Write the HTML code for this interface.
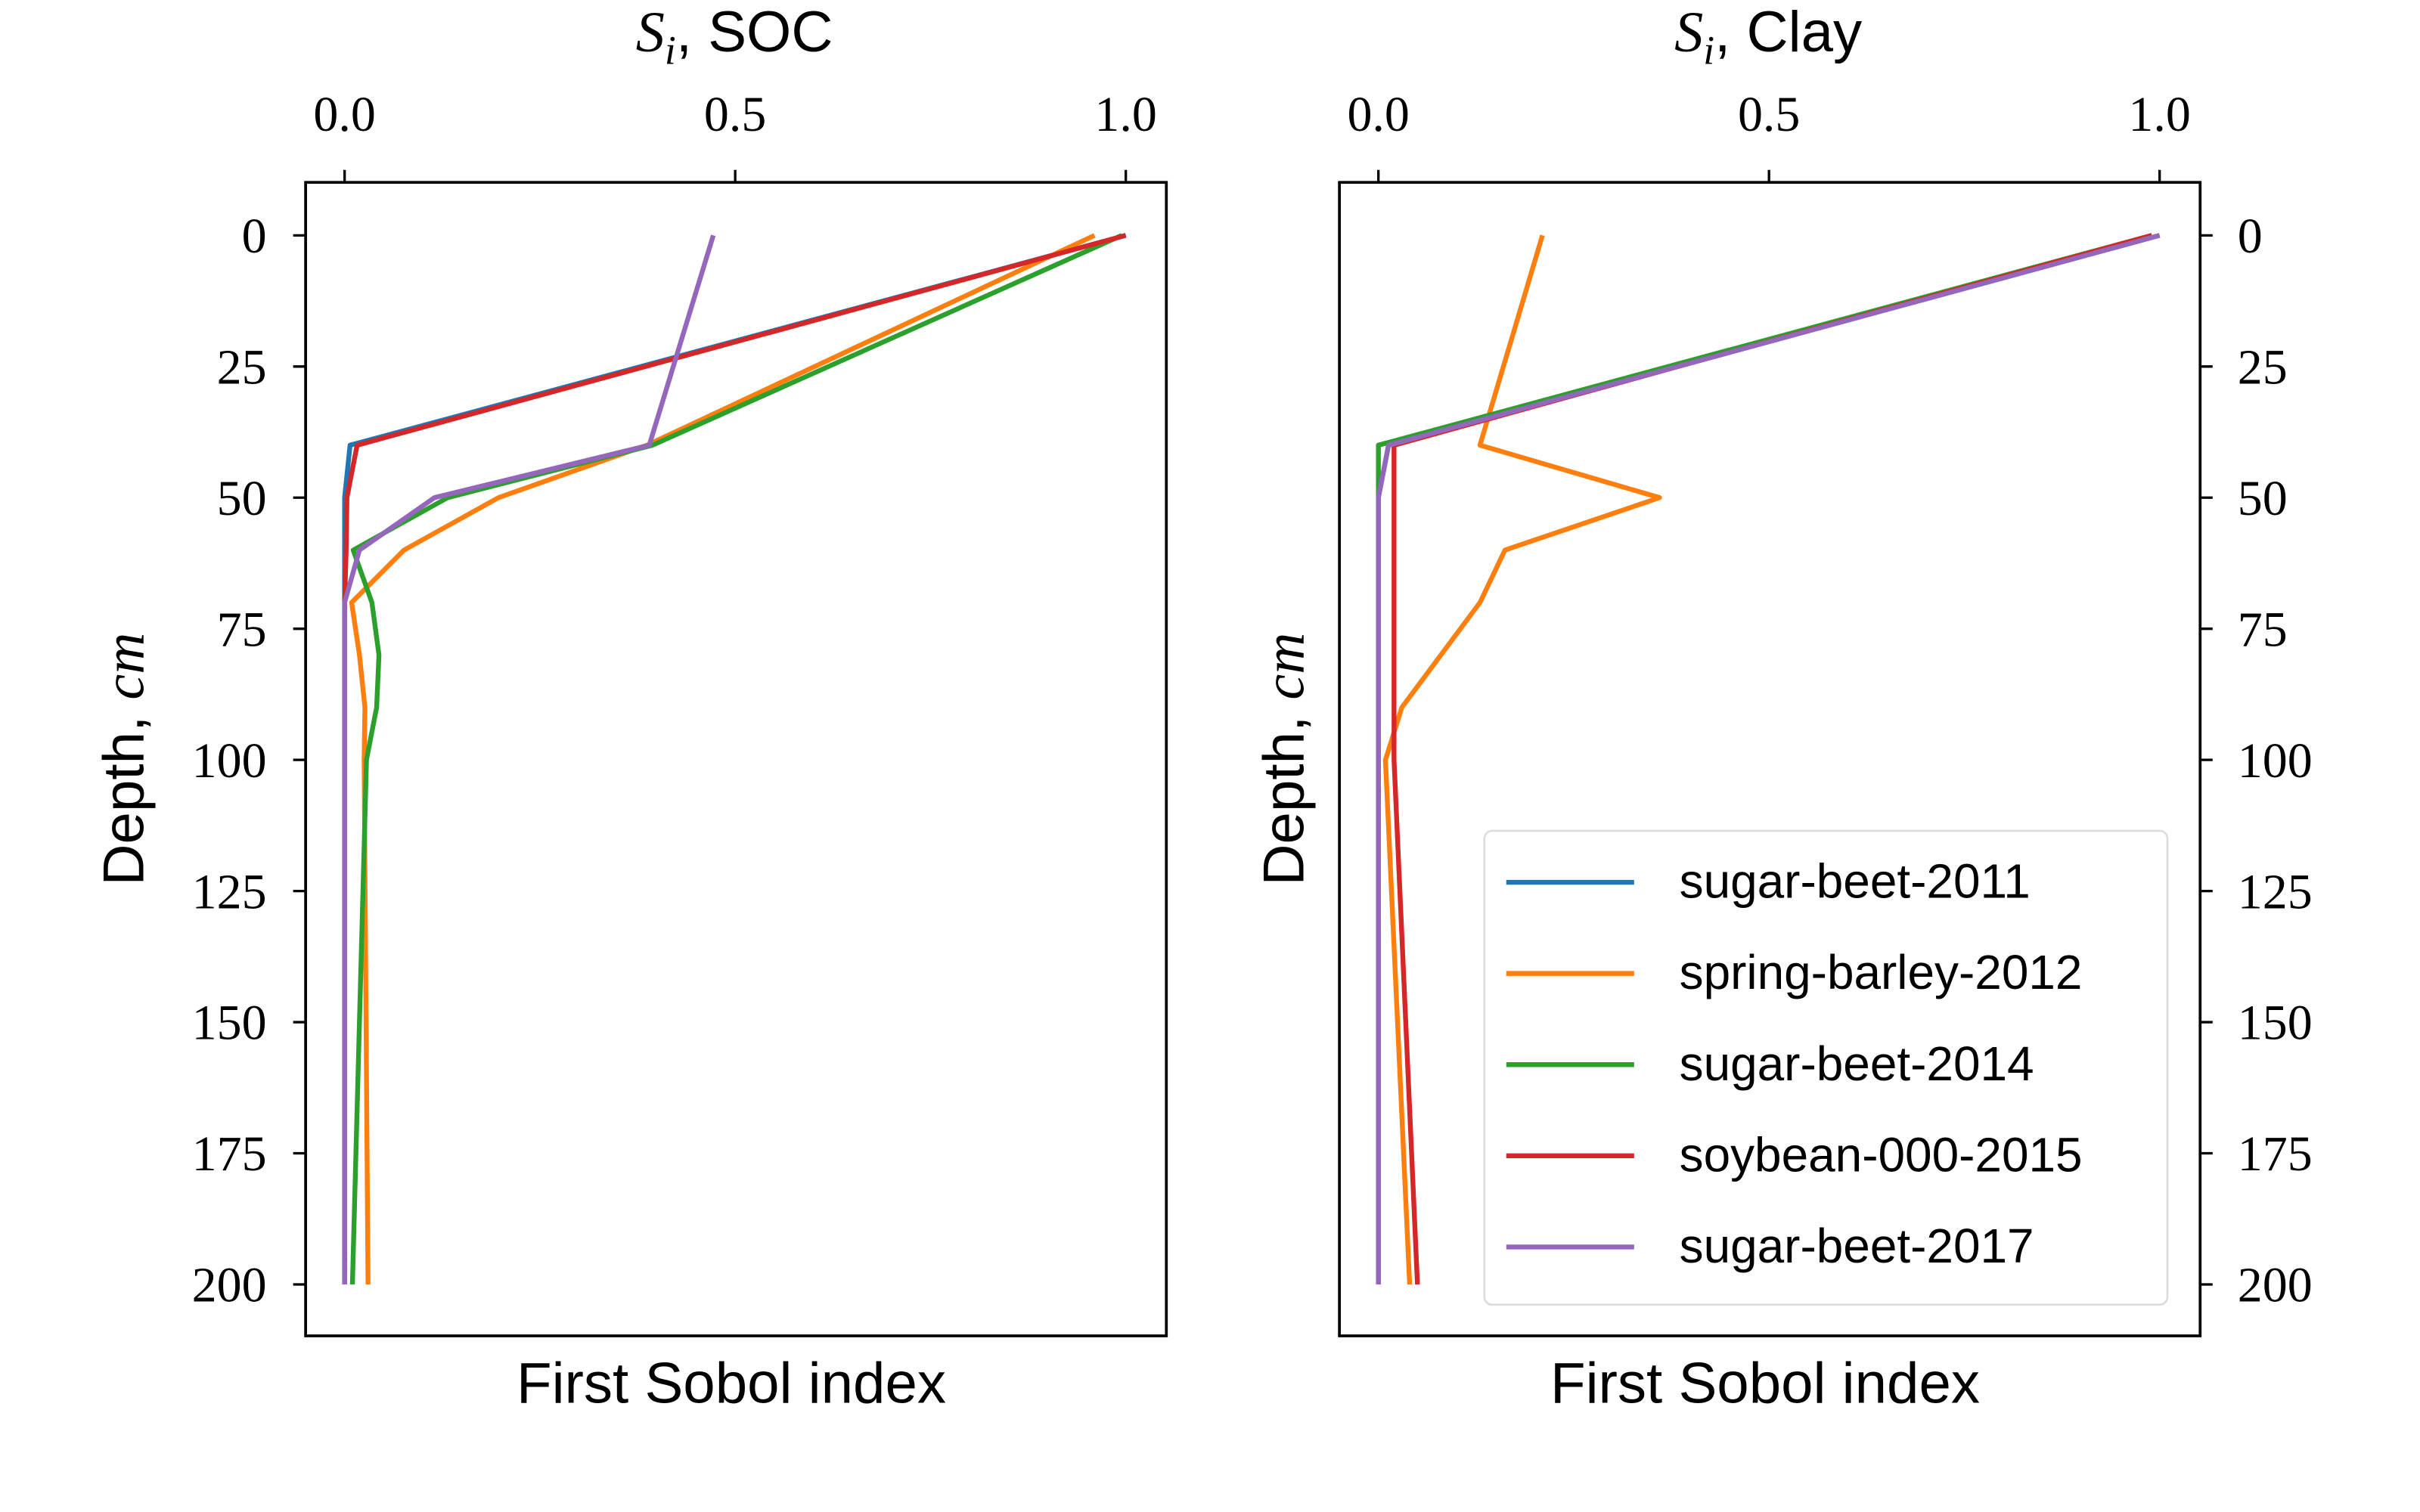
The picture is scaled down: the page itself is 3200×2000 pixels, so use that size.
<!DOCTYPE html>
<html><head><meta charset="utf-8"><style>
html,body{margin:0;padding:0;background:#fff;}
svg{display:block;}
.tick{font-family:"Liberation Serif",serif;font-size:32px;fill:#000;}
.lab{font-family:"Liberation Sans",sans-serif;font-size:37px;fill:#000;}
.leg{font-family:"Liberation Sans",sans-serif;font-size:31px;fill:#000;}
</style></head><body>
<svg id="chart" width="3200" height="2000" viewBox="0 0 1552 970" xmlns="http://www.w3.org/2000/svg">
<g id="root"></g>
</svg>
<script>
const depths = [0, 40, 50, 60, 70, 80, 90, 100, 200];
const seriesNames = ["sugar-beet-2011","spring-barley-2012","sugar-beet-2014","soybean-000-2015","sugar-beet-2017"];
const colors = ["#1f77b4","#ff7f0e","#2ca02c","#d62728","#9467bd"];
const socBeet2011 = [1.0, 0.007, 0.0, 0.0, 0.0, 0.0, 0.0, 0.0, 0.0];
const socBarley2012 = [0.96, 0.387, 0.197, 0.076, 0.009, 0.019, 0.026, 0.025, 0.03];
const socBeet2014 = [0.995, 0.394, 0.132, 0.011, 0.035, 0.044, 0.041, 0.028, 0.01];
const socSoy2015 = [1.0, 0.016, 0.003, 0.002, 0.0, 0.0, 0.0, 0.0, 0.0];
const socBeet2017 = [0.472, 0.39, 0.115, 0.019, 0.0, 0.0, 0.0, 0.0, 0.0];
const clayBeet2011 = [1.0, 0.013, 0.0, 0.0, 0.0, 0.0, 0.0, 0.0, 0.0];
const clayBarley2012 = [0.21, 0.13, 0.36, 0.162, 0.13, 0.08, 0.03, 0.009, 0.04];
const clayBeet2014 = [0.99, 0.0, 0.0, 0.0, 0.0, 0.0, 0.0, 0.0, 0.0];
const claySoy2015 = [0.99, 0.02, 0.02, 0.02, 0.02, 0.02, 0.02, 0.02, 0.05];
const clayBeet2017 = [1.0, 0.013, 0.0, 0.0, 0.0, 0.0, 0.0, 0.0, 0.0];
const xTicks = [0.0, 0.5, 1.0];
const xTickLabels = ["0.0","0.5","1.0"];
const yTicks = [0, 25, 50, 75, 100, 125, 150, 175, 200];

const NS = "http://www.w3.org/2000/svg";
const root = document.getElementById('root');
function el(tag, attrs, parent){const e=document.createElementNS(NS,tag);for(const k in attrs)e.setAttribute(k,attrs[k]);(parent||root).appendChild(e);return e;}
const Y = d => 151 + d*(824-151)/200;

function panel(x0, title, name, series, yRight){
  const left = x0-25, right = x0+527;
  const X = v => x0 + v*501;
  const g = el('g',{});
  
  
  series.forEach((s,i)=>{
    const pts = s.map((v,j)=>X(v).toFixed(2)+','+Y(depths[j]).toFixed(2)).join(' ');
    const pl = el('polyline',{points:pts,fill:'none',stroke:colors[i],'stroke-width':3.1,'stroke-linejoin':'round'},g);
    
    
  });
  const fr = el('rect',{x:left,y:117,width:552,height:740,fill:'none',stroke:'#000','stroke-width':1.8},g);
  
  
  xTicks.forEach((t,i)=>{
    el('line',{x1:X(t),x2:X(t),y1:117,y2:109,stroke:'#000','stroke-width':1.6},g);
    const tx = el('text',{x:X(t),y:84,'text-anchor':'middle',class:'tick'},g);
    tx.textContent = xTickLabels[i];
    
    
  });
  yTicks.forEach(t=>{
    const y = Y(t);
    if(yRight){
      el('line',{x1:right,x2:right+8,y1:y,y2:y,stroke:'#000','stroke-width':1.6},g);
      const tx = el('text',{x:right+24,y:y+11,'text-anchor':'start',class:'tick'},g);
      tx.textContent = t;
      
      
    } else {
      el('line',{x1:left,x2:left-8,y1:y,y2:y,stroke:'#000','stroke-width':1.6},g);
      const tx = el('text',{x:left-25,y:y+11,'text-anchor':'end',class:'tick'},g);
      tx.textContent = t;
      
      
    }
  });
  const tt = el('text',{x:x0+250,y:33,'text-anchor':'middle',class:'lab'},g);
  tt.innerHTML = '<tspan font-family="Liberation Serif" font-style="italic">S</tspan><tspan font-family="Liberation Serif" font-style="italic" font-size="26" dy="8">i</tspan><tspan dy="-8">, '+title+'</tspan>';
  
  
  const xl = el('text',{x:x0+248,y:900,'text-anchor':'middle',class:'lab'},g);
  xl.textContent = 'First Sobol index';
  
  
  const yl = el('text',{x:0,y:0,'text-anchor':'middle',class:'lab',transform:'translate('+(yRight?836:92)+',487) rotate(-90)'},g);
  yl.innerHTML = 'Depth, <tspan font-family="Liberation Serif" font-style="italic">cm</tspan>';
  
  
}
panel(221, 'SOC', 'soc', [socBeet2011, socBarley2012, socBeet2014, socSoy2015, socBeet2017], false);
panel(884, 'Clay', 'clay', [clayBeet2011, clayBarley2012, clayBeet2014, claySoy2015, clayBeet2017], true);

const lg = el('g',{});


el('rect',{x:952,y:533,width:438,height:304,rx:5,fill:'#fff','fill-opacity':0.8,stroke:'#ddd','stroke-width':1.3},lg);
seriesNames.forEach((n,i)=>{
  const y = 566 + i*58.5;
  const e = el('g',{},lg);
  
  
  el('line',{x1:966,x2:1048,y1:y,y2:y,stroke:colors[i],'stroke-width':3.1},e);
  const t = el('text',{x:1077,y:y+10,class:'leg'},e);
  t.textContent = n;
});
</script>
</body></html>
